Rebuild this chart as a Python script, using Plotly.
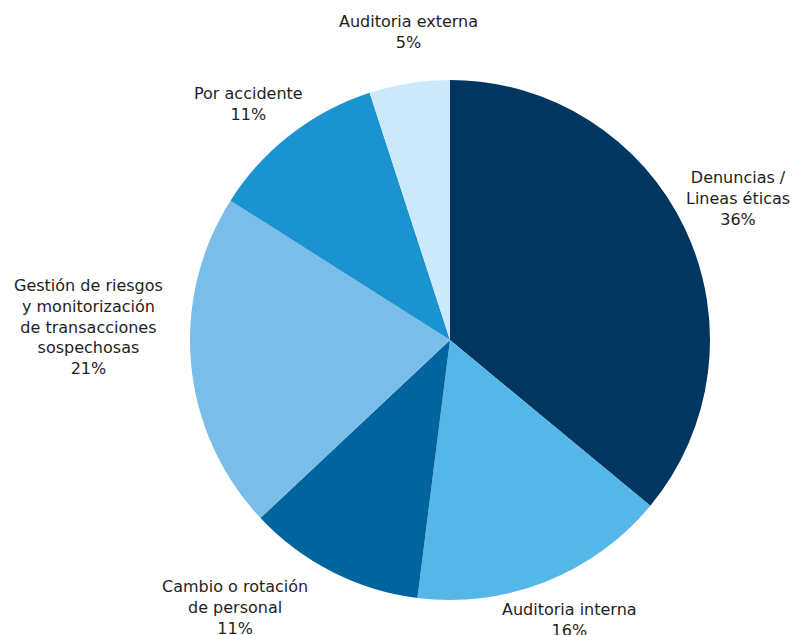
import math
import plotly.graph_objects as go

# ---- data ----
labels = [
    "Denuncias /<br>Lineas éticas",
    "Auditoria interna",
    "Cambio o rotación<br>de personal",
    "Gestión de riesgos<br>y monitorización<br>de transacciones<br>sospechosas",
    "Por accidente",
    "Auditoria externa",
]
values = [36, 16, 11, 21, 11, 5]

# ---- style ----
colors = ["#003660", "#55b6e8", "#00659e", "#7abde9", "#1b93d1", "#cce8fb"]
# pixel offsets of each label from its slice's outer-edge midpoint
label_ax = [53, 24, -97, -103, -42, -1]
label_ay = [-31, 38, 36, -37, -31, -51]

# page body has an 8px margin, so the figure is drawn 8px smaller
W, H = 790, 627
ML, MR, MT, MB = 182, 88, 72, 35
pw, ph = W - ML - MR, H - MT - MB

fig = go.Figure(
    go.Pie(
        labels=labels,
        values=values,
        sort=False,
        direction="clockwise",
        rotation=0,
        textinfo="none",
        marker=dict(colors=colors, line=dict(width=0)),
        showlegend=False,
        hoverinfo="label+percent",
    )
)

# label annotations anchored at the slice mid-angle on the pie edge
total = sum(values)
cum = 0
annotations = []
for lab, v, ax, ay in zip(labels, values, label_ax, label_ay):
    mid = (cum + v / 2) / total * 2 * math.pi
    cum += v
    x = 0.5 + 0.5 * math.sin(mid) * (ph / pw)
    y = 0.5 + 0.5 * math.cos(mid)
    annotations.append(
        dict(
            x=x, y=y, xref="paper", yref="paper",
            text=f"{lab}<br>{round(v / total * 100)}%",
            showarrow=True, arrowcolor="rgba(0,0,0,0)", arrowwidth=0.1,
            ax=ax, ay=ay, align="center",
            font=dict(family="DejaVu Sans, Arial, sans-serif", size=16, color="#1e1e1e"),
        )
    )

fig.update_layout(
    width=W, height=H,
    margin=dict(l=ML, r=MR, t=MT, b=MB),
    paper_bgcolor="white", plot_bgcolor="white",
    annotations=annotations,
)

fig.write_html("out.html")
